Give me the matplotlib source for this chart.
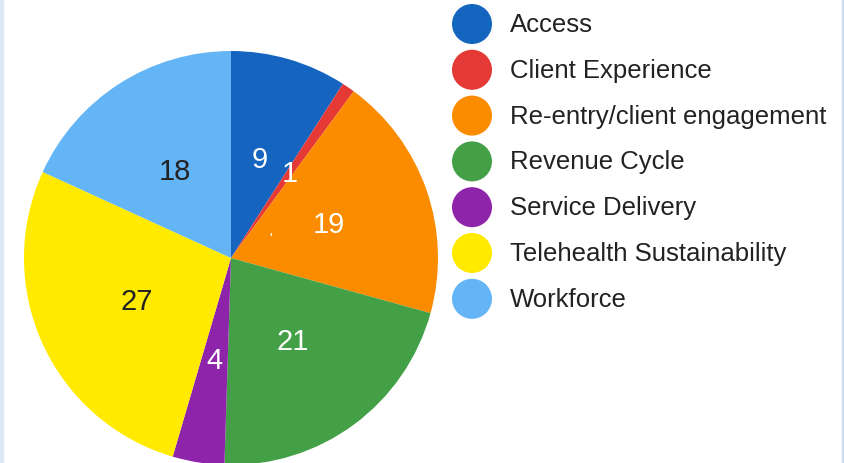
# круговая диаграмма - приоритеты по категориям
import matplotlib.pyplot as plt
from matplotlib.patches import Rectangle

categories = ['Access', 'Client Experience', 'Re-entry/client engagement',
              'Revenue Cycle', 'Service Delivery', 'Telehealth Sustainability',
              'Workforce']
counts = [9, 1, 19, 21, 4, 27, 18]
colors = ['#1565c0', '#e53935', '#fb8c00', '#43a047', '#8e24aa', '#ffea00', '#64b5f6']
label_colors = ['white', 'white', 'white', 'white', 'white', '#222222', '#222222']


def main():
    plt.rcParams['font.family'] = ['Liberation Sans', 'DejaVu Sans']
    fig = plt.figure(figsize=(8.45, 4.64), dpi=100)
    ax = fig.add_axes([0, 0, 1, 1])

    total = sum(counts)
    wedges, texts, autotexts = ax.pie(
        counts, colors=colors, startangle=90, counterclock=False,
        center=(231, 464 - 259), radius=207, frame=True,
        autopct=lambda p: '%d' % round(p * total / 100), pctdistance=0.5,
        textprops={'fontsize': 21})
    for t, c in zip(autotexts, label_colors):
        t.set_color(c)
    ax.set_xlim(0, 845)
    ax.set_ylim(0, 464)
    ax.set_aspect('equal')
    ax.axis('off')

    # маленькая отметка внутри оранжевого сектора
    ax.text(271, 464 - 239, "'", color='white', fontsize=10, ha='center', va='center')

    # легенда
    for i, (name, col) in enumerate(zip(categories, colors)):
        y = 464 - (25 + i * 45.8)
        ax.scatter([472], [y], s=830, color=col, edgecolors='none')
        ax.text(510, y, name, fontsize=18.5, color='#222222', va='center', ha='left')

    # светло-голубые края
    ax.add_patch(Rectangle((0, 0), 3, 464, color='#dde9f6', zorder=5))
    ax.add_patch(Rectangle((842, 0), 3, 464, color='#c8dcf0', zorder=5))

    fig.savefig('out.png', dpi=100, facecolor='white')


if __name__ == '__main__':
    main()
